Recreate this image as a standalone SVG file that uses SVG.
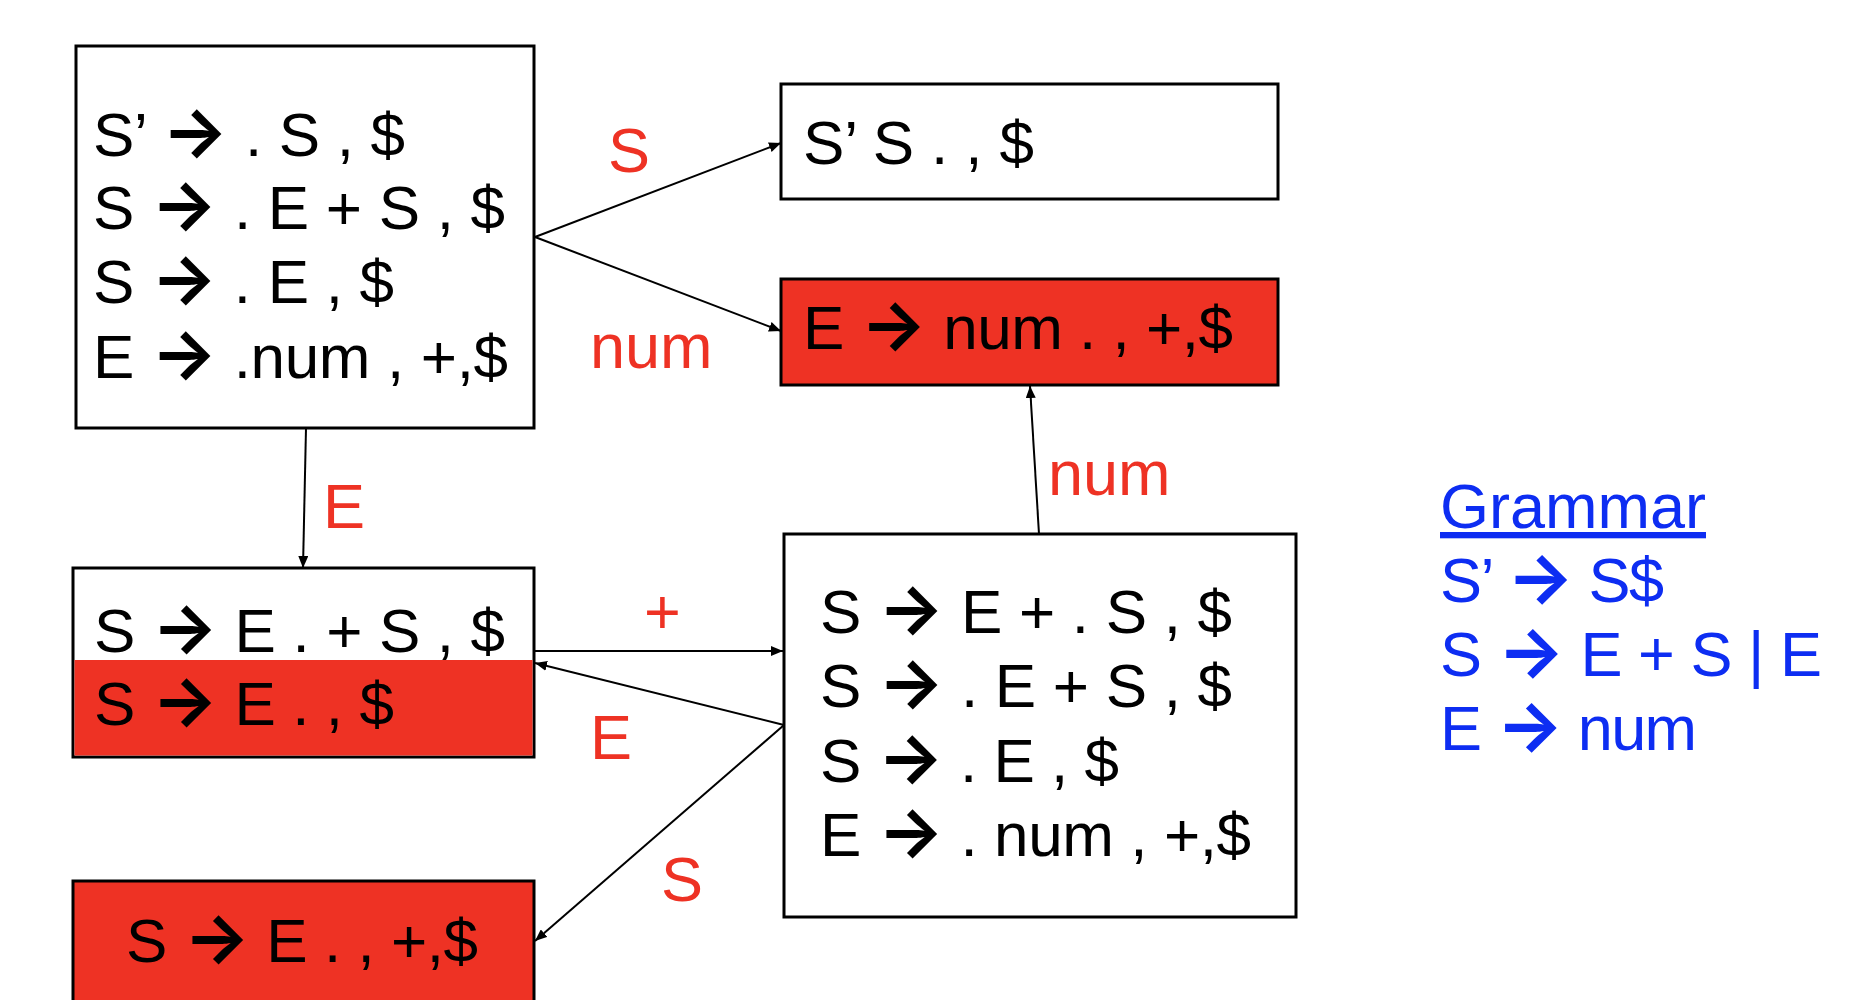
<svg xmlns="http://www.w3.org/2000/svg" width="1856" height="1000" viewBox="0 0 1856 1000">
<style>
.box{fill:#ffffff;stroke:#000;stroke-width:3}
.red{fill:#ee3224}
.redbox{fill:#ee3224;stroke:#000;stroke-width:3}
.t{font-family:"Liberation Sans",Arial,sans-serif;font-size:62px;fill:#000}
.ar{font-family:Inter,"DejaVu Sans",sans-serif;font-weight:bold;font-size:1.12em}
.lbl{font-family:"Liberation Sans",Arial,sans-serif;font-size:63px;fill:#ee3224}
.g{font-family:"Liberation Sans",Arial,sans-serif;font-size:63px;fill:#0d2df2}
.c{stroke:#000;stroke-width:2;fill:none;marker-end:url(#ah)}
</style>
<defs>
<marker id="ah" markerUnits="userSpaceOnUse" markerWidth="12" markerHeight="10" refX="12" refY="5" orient="auto">
<path d="M0,0 L12,5 L0,10 z" fill="#000"/>
</marker>
</defs>
<g id="node-start">
<rect class="box" x="76" y="46" width="458" height="382"/>
<text class="t" x="93" y="156" textLength="312" lengthAdjust="spacing">S’ <tspan class="ar">→</tspan> . S , $</text>
<text class="t" x="93" y="229" textLength="412" lengthAdjust="spacing">S <tspan class="ar">→</tspan> . E + S , $</text>
<text class="t" x="93" y="303" textLength="301" lengthAdjust="spacing">S <tspan class="ar">→</tspan> . E , $</text>
<text class="t" x="93" y="378" textLength="415" lengthAdjust="spacing">E <tspan class="ar">→</tspan> .num , +,$</text>
</g>
<g id="node-accept">
<rect class="box" x="781" y="84" width="497" height="115"/>
<text class="t" x="803" y="164" textLength="231" lengthAdjust="spacing">S’ S . , $</text>
</g>
<g id="node-num1">
<rect class="redbox" x="781" y="279" width="497" height="106"/>
<text class="t" x="803" y="349" textLength="430" lengthAdjust="spacing">E <tspan class="ar">→</tspan> num . , +,$</text>
</g>
<g id="node-e1">
<rect class="box" x="73" y="568" width="461" height="189"/>
<rect class="red" x="74.5" y="660" width="458" height="95.5"/>
<text class="t" x="94" y="652" textLength="411" lengthAdjust="spacing">S <tspan class="ar">→</tspan> E . + S , $</text>
<text class="t" x="94" y="725" textLength="300" lengthAdjust="spacing">S <tspan class="ar">→</tspan> E . , $</text>
</g>
<g id="node-s1">
<rect class="redbox" x="73" y="881" width="461" height="140"/>
<text class="t" x="126" y="962" textLength="352" lengthAdjust="spacing">S <tspan class="ar">→</tspan> E . , +,$</text>
</g>
<g id="node-plus">
<rect class="box" x="784" y="534" width="512" height="383"/>
<text class="t" x="820" y="633" textLength="412" lengthAdjust="spacing">S <tspan class="ar">→</tspan> E + . S , $</text>
<text class="t" x="820" y="707" textLength="412" lengthAdjust="spacing">S <tspan class="ar">→</tspan> . E + S , $</text>
<text class="t" x="820" y="782" textLength="299" lengthAdjust="spacing">S <tspan class="ar">→</tspan> . E , $</text>
<text class="t" x="820" y="856" textLength="431" lengthAdjust="spacing">E <tspan class="ar">→</tspan> . num , +,$</text>
</g>
<g id="connectors">
<line class="c" x1="535" y1="237" x2="781" y2="143"/>
<line class="c" x1="535" y1="237" x2="781" y2="331"/>
<line class="c" x1="306" y1="428" x2="303" y2="568"/>
<line class="c" x1="534" y1="651" x2="783" y2="651"/>
<line class="c" x1="784" y1="725" x2="535" y2="663"/>
<line class="c" x1="784" y1="725" x2="535" y2="941"/>
<line class="c" x1="1039" y1="534" x2="1030" y2="386"/>
</g>
<g id="labels">
<text class="lbl" x="608" y="172">S</text>
<text class="lbl" x="590" y="368">num</text>
<text class="lbl" x="323" y="528">E</text>
<text class="lbl" x="644" y="634">+</text>
<text class="lbl" x="590" y="759">E</text>
<text class="lbl" x="661" y="901">S</text>
<text class="lbl" x="1048" y="495">num</text>
</g>
<g id="grammar">
<text class="g" x="1440" y="528" text-decoration="underline">Grammar</text>
<text class="g" x="1440" y="602" textLength="224" lengthAdjust="spacing">S’ <tspan class="ar">→</tspan> S$</text>
<text class="g" x="1440" y="676" textLength="382" lengthAdjust="spacing">S <tspan class="ar">→</tspan> E + S | E</text>
<text class="g" x="1440" y="750" textLength="257" lengthAdjust="spacing">E <tspan class="ar">→</tspan> num</text>
</g>
</svg>
